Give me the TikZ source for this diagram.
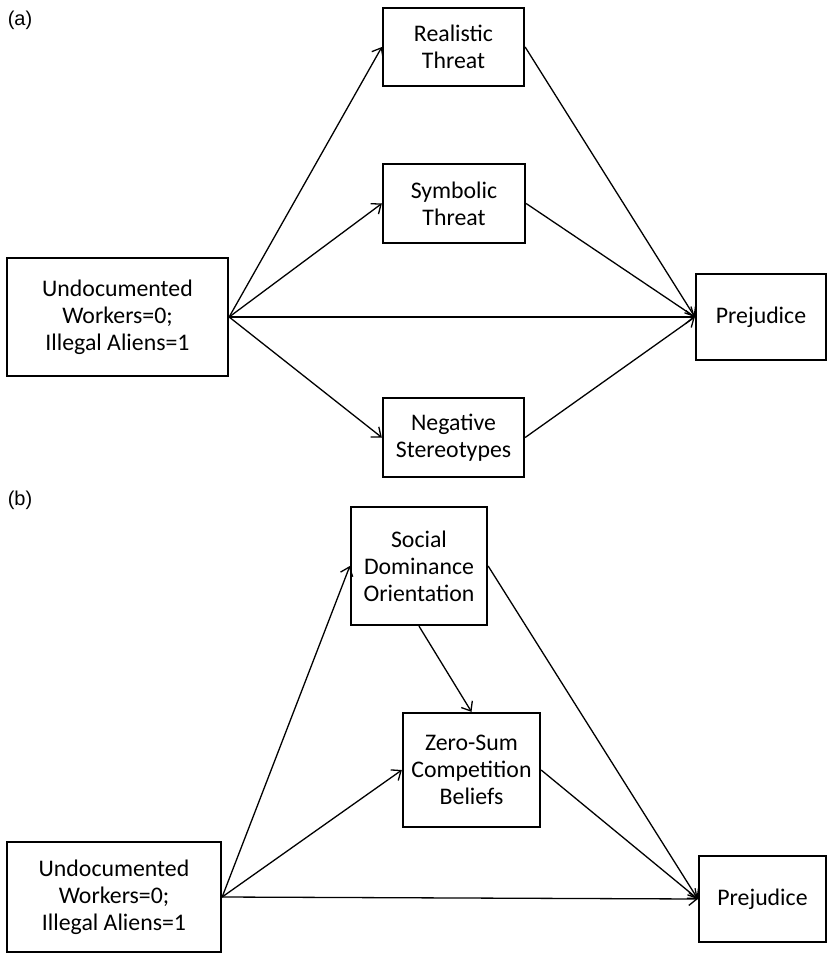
\documentclass[tikz,border=0pt]{standalone}
\usepackage{fontspec}
\usepackage{tikz}
\usetikzlibrary{arrows.meta}
\setmainfont{Carlito}
\newfontfamily\panelfont{Liberation Sans}

\begin{document}
\begin{tikzpicture}[x=1pt, y=-1pt,
    box/.style={draw, line width=2.3pt, align=center, inner sep=0pt, font=\fontsize{23.8}{27}\selectfont},
    link/.style={-{Straight Barb[length=8pt,width=13pt]}, line width=1.3pt},
    panel/.style={font=\panelfont\fontsize{20}{24}\selectfont}]
    \useasboundingbox (0,0) rectangle (830,953);

    % panel (a)
    \node[panel] at (20, 20) (tagA) {(a)};
    \node[box, minimum width=141pt, minimum height=78pt] at (453.5, 47) (real) {Realistic\\Threat};
    \node[box, minimum width=142pt, minimum height=79pt] at (454, 203.5) (symb) {Symbolic\\Threat};
    \node[box, minimum width=141pt, minimum height=79pt] at (453.5, 437.5) (nega) {Negative\\Stereotypes};
    \node[box, minimum width=221pt, minimum height=118pt] at (117.5, 317) (undA) {Undocumented\\Workers=0;\\Illegal Aliens=1};
    \node[box, minimum width=130pt, minimum height=86pt] at (761, 317) (prejA) {Prejudice};

    \draw[link] (undA.east) -- (real.west);
    \draw[link] (undA.east) -- (symb.west);
    \draw[link] (undA.east) -- (prejA.west);
    \draw[link] (undA.east) -- (nega.west);
    \draw[link] (real.east) -- (prejA.west);
    \draw[link] (symb.east) -- (prejA.west);
    \draw[link] (nega.east) -- (prejA.west);

    % panel (b)
    \node[panel] at (20, 500) (tagB) {(b)};
    \node[box, minimum width=136pt, minimum height=118pt] at (419, 566) (sdo) {Social\\Dominance\\Orientation};
    \node[box, minimum width=137pt, minimum height=114pt] at (471.5, 770) (zero) {Zero-Sum\\Competition\\Beliefs};
    \node[box, minimum width=214pt, minimum height=110pt] at (114, 897) (undB) {Undocumented\\Workers=0;\\Illegal Aliens=1};
    \node[box, minimum width=127pt, minimum height=86pt] at (762.5, 899) (prejB) {Prejudice};

    \draw[link] (undB.east) -- (sdo.west);
    \draw[link] (undB.east) -- (zero.west);
    \draw[link] (undB.east) -- (prejB.west);
    \draw[link] (sdo.south) -- (zero.north);
    \draw[link] (sdo.east) -- (prejB.west);
    \draw[link] (zero.east) -- (prejB.west);
\end{tikzpicture}
\end{document}
